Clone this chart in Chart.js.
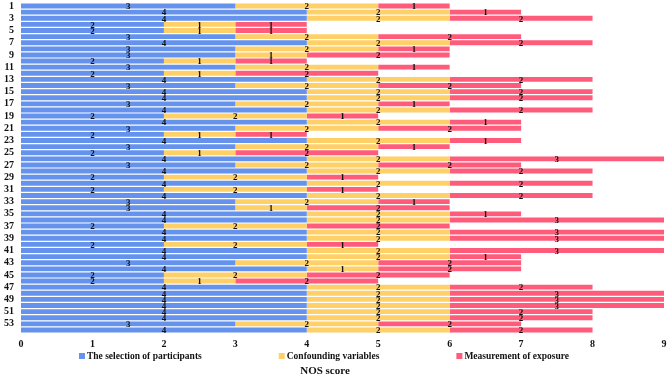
<!DOCTYPE html>
<html>
<head>
<meta charset="utf-8">
<script src="https://cdn.jsdelivr.net/npm/chart.js@4"></script>
<style>
  html, body { margin: 0; padding: 0; background: #fff; }
  #wrap { width: 669px; height: 378px; }
</style>
</head>
<body>
<div id="wrap"><canvas id="myChart" width="669" height="378"></canvas></div>
<script>
// study numbers 1..54
const studies = [];
for (let i = 1; i <= 54; i++) studies.push(String(i));

const selection = [3,4,4,2,2,3,4,3,3,2,3,2,4,3,4,4,3,4,2,4,3,2,4,3,2,4,3,4,2,4,2,4,3,3,4,4,2,4,4,2,4,4,3,4,2,2,4,4,4,4,4,4,3,4];
const confounding = [2,2,2,1,1,2,2,2,1,1,2,1,2,2,2,2,2,2,2,2,2,1,2,2,1,2,2,2,2,2,2,2,2,1,2,2,2,2,2,2,2,2,2,1,2,1,2,2,2,2,2,2,2,2];
const exposure = [1,1,2,1,1,2,2,1,2,1,1,2,2,2,2,2,1,2,1,1,2,1,1,1,2,3,2,2,1,2,1,2,1,2,1,3,2,3,3,1,3,1,2,2,2,2,2,3,3,3,2,2,2,2];

const seriesNames = ['The selection of participants', 'Confounding variables', 'Measurement of exposure'];
const seriesColors = ['rgb(100,146,236)', 'rgb(255,208,104)', 'rgb(255,92,124)'];
const xTicks = [0,1,2,3,4,5,6,7,8,9];
const axisTitle = 'NOS score';

const serif = '"Liberation Serif", "Times New Roman", serif';

// writes each segment's value in the middle of it
const segmentLabels = {
  id: 'segmentLabels',
  afterDatasetsDraw(chart) {
    const ctx = chart.ctx;
    ctx.save();
    ctx.font = 'bold 9px ' + serif;
    ctx.fillStyle = '#111';
    ctx.textAlign = 'center';
    ctx.textBaseline = 'middle';
    chart.data.datasets.forEach((ds, di) => {
      const meta = chart.getDatasetMeta(di);
      meta.data.forEach((bar, i) => {
        const v = ds.data[i];
        if (!v) return;
        ctx.fillText(String(v), (bar.x + bar.base) / 2, bar.y + 1);
      });
    });
    ctx.restore();
  }
};

// legend row + axis title under the tick labels (the built-in legend spaces items too tightly)
const bottomLegend = {
  id: 'bottomLegend',
  afterDraw(chart) {
    const ctx = chart.ctx;
    const area = chart.chartArea;
    const gap = 77;
    const centre = 324;
    ctx.save();
    ctx.font = 'bold 9.5px ' + serif;
    const widths = seriesNames.map(t => ctx.measureText(t).width);
    const total = widths.reduce((a, w) => a + w + 8, 0) + gap * (seriesNames.length - 1);
    let x = centre - total / 2;
    const y = area.bottom + 23;
    ctx.textBaseline = 'middle';
    ctx.textAlign = 'left';
    seriesNames.forEach((t, i) => {
      ctx.fillStyle = seriesColors[i];
      ctx.fillRect(x, y - 3, 6, 6);
      ctx.fillStyle = '#111';
      ctx.fillText(t, x + 8, y + 0.5);
      x += 8 + widths[i] + gap;
    });
    ctx.font = 'bold 11px ' + serif;
    ctx.textAlign = 'center';
    ctx.fillText(axisTitle, centre + 1, area.bottom + 38);
    ctx.restore();
  }
};

function noEdgePadding(axis) {
  axis.paddingTop = 0;
  axis.paddingBottom = 0;
  axis.paddingLeft = 0;
  axis.paddingRight = 0;
}

new Chart(
  document.getElementById('myChart'),
  {
    type: 'bar',
    plugins: [segmentLabels, bottomLegend],
    data: {
      labels: studies,
      datasets: seriesNames.map((name, i) => ({
        label: name,
        data: [selection, confounding, exposure][i],
        backgroundColor: seriesColors[i]
      }))
    },
    options: {
      indexAxis: 'y',
      responsive: false,
      animation: false,
      layout: {
        padding: { left: -3, right: 5, top: 3, bottom: 23 }
      },
      datasets: {
        bar: {
          barPercentage: 0.8,
          categoryPercentage: 1.0,
          borderWidth: 0
        }
      },
      scales: {
        x: {
          stacked: true,
          min: 0,
          max: 9,
          grid: { display: false, drawTicks: false },
          border: { display: false },
          afterBuildTicks(axis) {
            axis.ticks = xTicks.map(v => ({ value: v }));
          },
          afterFit: noEdgePadding,
          ticks: {
            padding: 5,
            color: '#111',
            font: { family: serif, weight: 'bold', size: 10 }
          }
        },
        y: {
          stacked: true,
          grid: { display: false, drawTicks: false },
          border: { display: false },
          afterFit: noEdgePadding,
          ticks: {
            autoSkip: false,
            padding: 7,
            color: '#111',
            font: { family: serif, weight: 'bold', size: 10 },
            callback: function(value, index) {
              return index % 2 === 0 ? studies[index] : '';
            }
          }
        }
      },
      plugins: {
        legend: { display: false },
        title: { display: false },
        tooltip: { enabled: false }
      }
    }
  }
);
</script>
</body>
</html>
